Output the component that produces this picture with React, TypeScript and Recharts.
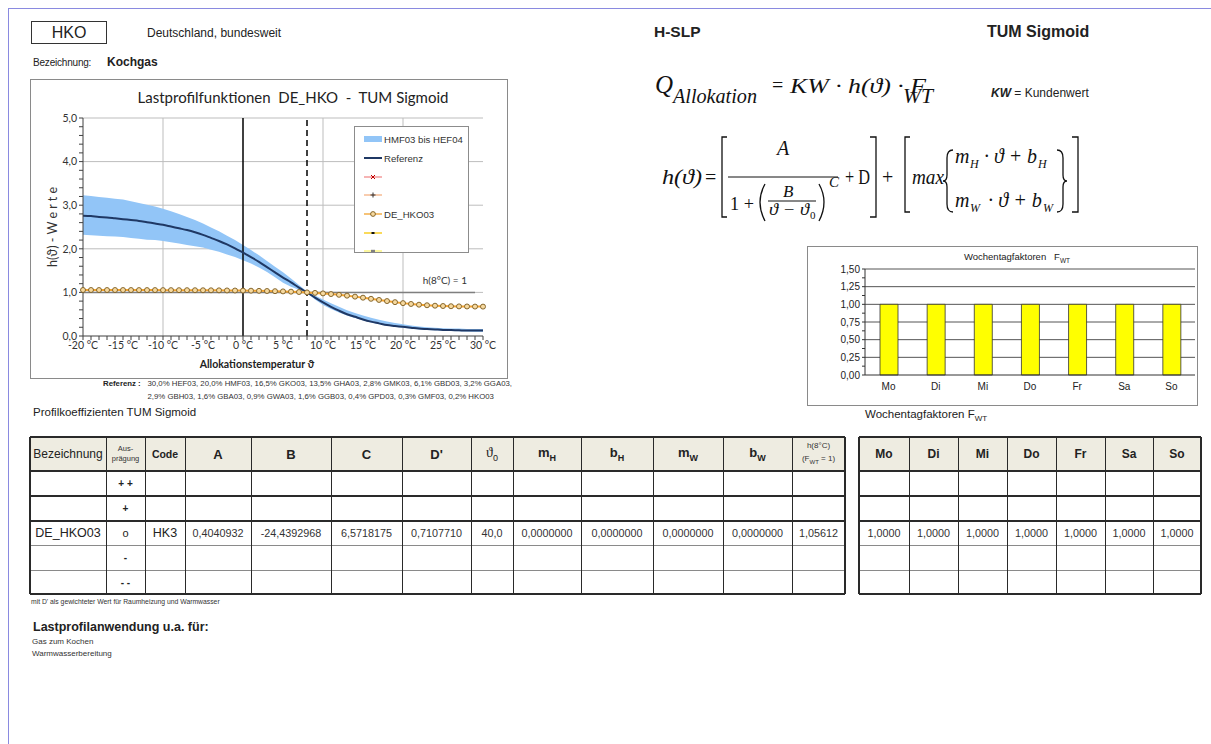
import React from "react";
import {
  ComposedChart,
  Area,
  Line,
  XAxis,
  YAxis,
  CartesianGrid,
  ReferenceLine,
  Legend,
  BarChart,
  Bar,
} from "recharts";

const ARIAL = '"Liberation Sans", Arial, sans-serif';
const CAL = 'Lato, "Liberation Sans", sans-serif';
const SERIF = '"Liberation Serif", "DejaVu Serif", serif';

// Lastprofilfunktionen (°C -> h-value)
const temperatures = [
  -20, -19, -18, -17, -16, -15, -14, -13, -12, -11,
  -10, -9, -8, -7, -6, -5, -4, -3, -2, -1,
  0, 1, 2, 3, 4, 5, 6, 7, 8, 9,
  10, 11, 12, 13, 14, 15, 16, 17, 18, 19,
  20, 21, 22, 23, 24, 25, 26, 27, 28, 29,
  30,
];
const referenz = [
  2.76, 2.75, 2.73, 2.72, 2.7, 2.68, 2.66, 2.64, 2.61, 2.58,
  2.55, 2.51, 2.47, 2.43, 2.38, 2.32, 2.25, 2.18, 2.1, 2.01,
  1.91, 1.81, 1.7, 1.58, 1.46, 1.34, 1.23, 1.11, 1.0, 0.88,
  0.77, 0.67, 0.58, 0.5, 0.44, 0.38, 0.33, 0.29, 0.25, 0.23,
  0.21, 0.19, 0.17, 0.16, 0.15, 0.14, 0.135, 0.13, 0.125, 0.125,
  0.125,
];
const bandHigh = [
  3.23, 3.21, 3.19, 3.17, 3.15, 3.13, 3.09, 3.05, 3.01, 2.97,
  2.92, 2.86, 2.8, 2.73, 2.66, 2.58, 2.49, 2.4, 2.3, 2.2,
  2.09, 1.97, 1.85, 1.72, 1.59, 1.46, 1.32, 1.17, 1.02, 0.93,
  0.84, 0.75, 0.67, 0.59, 0.53, 0.47, 0.42, 0.37, 0.33, 0.3,
  0.27, 0.24, 0.22, 0.2, 0.19, 0.18, 0.17, 0.17, 0.16, 0.16,
  0.16,
];
const bandLow = [
  2.32, 2.31, 2.3, 2.29, 2.28, 2.27, 2.25, 2.23, 2.21, 2.2,
  2.18, 2.15, 2.12, 2.09, 2.06, 2.03, 1.98, 1.93, 1.87, 1.81,
  1.74, 1.66, 1.57, 1.47, 1.35, 1.22, 1.13, 1.06, 0.98, 0.84,
  0.71, 0.62, 0.54, 0.47, 0.41, 0.36, 0.31, 0.27, 0.24, 0.21,
  0.19, 0.17, 0.15, 0.14, 0.13, 0.12, 0.115, 0.11, 0.105, 0.1,
  0.1,
];
const deHko03 = [
  1.055, 1.055, 1.054, 1.054, 1.054, 1.054, 1.054, 1.053, 1.053, 1.053,
  1.052, 1.052, 1.051, 1.051, 1.05, 1.049, 1.048, 1.047, 1.045, 1.043,
  1.041, 1.039, 1.036, 1.032, 1.028, 1.023, 1.017, 1.009, 1.0, 0.989,
  0.977, 0.962, 0.945, 0.925, 0.903, 0.879, 0.853, 0.827, 0.801, 0.776,
  0.754, 0.735, 0.718, 0.705, 0.695, 0.688, 0.683, 0.679, 0.677, 0.675,
  0.674,
];
const mainYTicks = [
  0, 0.2, 0.4, 0.6, 0.8, 1, 1.2, 1.4, 1.6, 1.8, 2, 2.2, 2.4, 2.6, 2.8, 3,
  3.2, 3.4, 3.6, 3.8, 4, 4.2, 4.4, 4.6, 4.8, 5,
];

const legendItems = [
  { label: "HMF03 bis HEF04", kind: "band", color: "#92c5f7", mark: "" },
  { label: "Referenz", kind: "line", color: "#1f3864", mark: "" },
  { label: "", kind: "x", color: "#f28b8b", mark: "#c00000" },
  { label: "", kind: "plus", color: "#f4b183", mark: "#333" },
  { label: "DE_HKO03", kind: "circle", color: "#f2a22e", mark: "#7a5a1e" },
  { label: "", kind: "dash", color: "#f7c600", mark: "#111" },
  { label: "", kind: "square", color: "#fbf36a", mark: "#808080" },
];

// Wochentagfaktoren
const weekdays = ["Mo", "Di", "Mi", "Do", "Fr", "Sa", "So"];
const weekdayFactors = [1, 1, 1, 1, 1, 1, 1];
const barYTicks = [0, 0.125, 0.25, 0.375, 0.5, 0.625, 0.75, 0.875, 1, 1.125, 1.25, 1.375, 1.5];

// Profilkoeffizienten
const coeffHeaders = ["Bezeichnung", "Aus-|prägung", "Code", "A", "B", "C", "D'", "ϑ|0", "m|H", "b|H", "m|W", "b|W", "h(8°C)"];
const auspraegung = ["+ +", "+", "o", "-", "- -"];
const profileName = "DE_HKO03";
const profileCode = "HK3";
const coefficients = ["0,4040932", "-24,4392968", "6,5718175", "0,7107710", "40,0", "0,0000000", "0,0000000", "0,0000000", "0,0000000", "1,05612"];
const referenzText = [
  "30,0% HEF03, 20,0% HMF03, 16,5% GKO03, 13,5% GHA03, 2,8% GMK03, 6,1% GBD03, 3,2% GGA03,",
  "2,9% GBH03, 1,6% GBA03, 0,9% GWA03, 1,6% GGB03, 0,4% GPD03, 0,3% GMF03, 0,2% HKO03",
];
const anwendungen = ["Gas zum Kochen", "Warmwasserbereitung"];

const leftCols = [30, 106, 145, 185, 251, 331, 402, 471, 513, 581, 653, 723, 792, 845];
const rightCols = [859, 909, 958, 1007, 1056, 1105, 1153, 1201];
const tableRows = [437, 471, 496, 521, 545, 570, 594];

function Txt({ x, y, size, bold, italic, children, center, style }: any) {
  return (
    <div
      style={{
        position: "absolute",
        left: x,
        top: y - size * 0.6,
        fontSize: size,
        lineHeight: `${size * 1.2}px`,
        fontWeight: bold ? 700 : 400,
        fontStyle: italic ? "italic" : "normal",
        whiteSpace: "nowrap",
        transform: center ? "translateX(-50%)" : undefined,
        ...style,
      }}
    >
      {children}
    </div>
  );
}

function LegendIcon({ item }: any) {
  const c = item.mark;
  return (
    <svg width={18} height={10} style={{ display: "block" }}>
      {item.kind === "band" ? (
        <rect x={0} y={2} width={18} height={6} fill={item.color} />
      ) : (
        <line x1={0} y1={5} x2={18} y2={5} stroke={item.color} strokeWidth={item.kind === "line" ? 2 : 1.3} />
      )}
      {item.kind === "x" && (
        <path d="M7,3 L11,7 M11,3 L7,7" stroke={c} strokeWidth={1} />
      )}
      {item.kind === "plus" && <path d="M9,2.5 V7.5 M6.5,5 H11.5" stroke={c} strokeWidth={1} />}
      {item.kind === "circle" && <circle cx={9} cy={5} r={2.4} fill="#f6d9a0" stroke={c} strokeWidth={0.9} />}
      {item.kind === "dash" && <rect x={7.5} y={4} width={3} height={2} fill={c} />}
      {item.kind === "square" && <rect x={7} y={3.8} width={4} height={2.6} fill={c} />}
    </svg>
  );
}

function LegendBox() {
  return (
    <div
      style={{
        width: 115,
        height: 127,
        border: "1px solid #8c8c8c",
        background: "#fff",
        paddingTop: 3,
        boxSizing: "border-box",
      }}
    >
      {legendItems.map((it, i) => (
        <div key={i} style={{ display: "flex", alignItems: "center", height: 18.7, paddingLeft: 9 }}>
          <LegendIcon item={it} />
          <span style={{ fontFamily: ARIAL, fontSize: 9.6, color: "#333", marginLeft: 2 }}>{it.label}</span>
        </div>
      ))}
    </div>
  );
}

function isWhole(v: number) {
  return Math.abs(v - Math.round(v)) < 1e-6;
}

function MainChart() {
  const data = temperatures.map((t, i) => ({
    t,
    band: [bandLow[i], bandHigh[i]],
    ref: referenz[i],
    hko: deHko03[i],
  }));
  const tickStyle = { fontSize: 10.5, fill: "#333", fontFamily: CAL };
  return (
    <div style={{ position: "absolute", left: 30, top: 79, width: 476, height: 298, border: "1px solid #8a8a8a", background: "#fff" }}>
      <ComposedChart width={476} height={298} data={data} margin={{ top: 38, right: 24, bottom: 0, left: 0 }}>
        <CartesianGrid stroke="#bdbdbd" strokeWidth={1} horizontalValues={[1, 2, 3, 4, 5]} verticalValues={[-10, 10, 20]} />
        <XAxis
          type="number"
          dataKey="t"
          domain={[-20, 30]}
          ticks={temperatures}
          interval={0}
          height={42}
          tickSize={4}
          tick={tickStyle}
          tickFormatter={(v: number) => (v % 5 === 0 ? `${v} °C` : "")}
          axisLine={{ stroke: "#404040" }}
          tickLine={{ stroke: "#404040" }}
          label={{
            content: (p: any) => {
              const vb = p.viewBox || { x: 52.3, y: 256, width: 400 };
              return (
                <text x={vb.x + vb.width / 2 - 26} y={vb.y + 32} textAnchor="middle" fontSize={10.5} fontWeight={700} fontFamily={CAL} fill="#222">
                  Allokationstemperatur  ϑ
                </text>
              );
            },
          }}
        />
        <YAxis
          type="number"
          domain={[0, 5]}
          ticks={mainYTicks}
          interval={0}
          width={52}
          tickSize={4}
          tick={tickStyle}
          tickFormatter={(v: number) => (isWhole(v) ? v.toFixed(1).replace(".", ",") : "")}
          axisLine={{ stroke: "#404040" }}
          tickLine={{ stroke: "#404040" }}
          label={{
            content: () => (
              <text x={21} y={147} transform="rotate(-90 21 147)" textAnchor="middle" dominantBaseline="central" fontSize={12.5} fontFamily={CAL} fill="#333">
                h(ϑ) - W e r t e
              </text>
            ),
          }}
        />
        <Area dataKey="band" stroke="none" fill="#92c5f7" fillOpacity={1} isAnimationActive={false} legendType="none" />
        <ReferenceLine x={0} stroke="#000" strokeWidth={1.5} />
        <ReferenceLine x={8} stroke="#000" strokeWidth={1.5} strokeDasharray="6 4" />
        <ReferenceLine
          segment={[{ x: -20, y: 1 }, { x: 29, y: 1 }]}
          stroke="#7f7f7f"
          strokeWidth={1.5}
          label={{
            content: (p: any) => {
              const vb = p.viewBox || { x: 52.3, y: 212.3, width: 392 };
              return (
                <text x={vb.x + vb.width - 8} y={vb.y - 8} textAnchor="end" fontSize={10} fontFamily={CAL} fill="#333">
                  h(8°C) = 1
                </text>
              );
            },
          }}
        />
        <Line dataKey="ref" type="monotone" stroke="#1f3864" strokeWidth={2} dot={false} isAnimationActive={false} />
        <Line
          dataKey="hko"
          type="linear"
          stroke="#f2a22e"
          strokeWidth={2}
          dot={{ r: 2.5, stroke: "#7a5a1e", strokeWidth: 0.9, fill: "#f6d9a0" }}
          isAnimationActive={false}
        />
        <Legend
          layout="vertical"
          align="center"
          verticalAlign="middle"
          content={() => <LegendBox />}
          wrapperStyle={{ left: 323, top: 46, width: 115, height: 127 }}
        />
      </ComposedChart>
      <div style={{ position: "absolute", left: 262, top: 8, transform: "translateX(-50%)", fontSize: 15, fontFamily: CAL, color: "#222", whiteSpace: "pre" }}>
        {"Lastprofilfunktionen  DE_HKO  -  TUM Sigmoid"}
      </div>
    </div>
  );
}

function WeekdayChart() {
  const data = weekdays.map((d, i) => ({ d, v: weekdayFactors[i] }));
  const tickStyle = { fontSize: 10, fill: "#222", fontFamily: ARIAL };
  return (
    <div style={{ position: "absolute", left: 807, top: 246, width: 389, height: 158, border: "1px solid #8a8a8a", background: "#fff" }}>
      <BarChart width={389} height={158} data={data} margin={{ top: 22, right: 2, bottom: 0, left: 0 }}>
        <CartesianGrid vertical={false} stroke="#555" strokeWidth={1} horizontalValues={[0.25, 0.5, 0.75, 1, 1.25, 1.5]} />
        <XAxis dataKey="d" height={30} tickLine={false} tick={tickStyle} axisLine={{ stroke: "#333" }} />
        <YAxis
          type="number"
          domain={[0, 1.5]}
          ticks={barYTicks}
          interval={0}
          width={57}
          tickSize={3}
          tick={tickStyle}
          tickFormatter={(v: number) => (isWhole(v * 4) ? v.toFixed(2).replace(".", ",") : "")}
          axisLine={{ stroke: "#333" }}
          tickLine={{ stroke: "#333" }}
        />
        <Bar dataKey="v" fill="#ffff00" stroke="#333" strokeWidth={0.8} barSize={18} isAnimationActive={false} />
      </BarChart>
      <div style={{ position: "absolute", left: 209, top: 4, transform: "translateX(-50%)", fontSize: 9.5, fontFamily: ARIAL, color: "#222", whiteSpace: "nowrap" }}>
        Wochentagfaktoren&nbsp;&nbsp;&nbsp;F<sub style={{ fontSize: 6.5 }}>WT</sub>
      </div>
    </div>
  );
}

function Grid({ cols, header, rows }: any) {
  const ys = tableRows;
  const cells: any[] = [];
  const all = [header, ...rows];
  all.forEach((row: any[], r: number) =>
    row.forEach((content: any, c: number) => {
      cells.push(
        <div
          key={`${r}-${c}`}
          style={{
            position: "absolute",
            left: cols[c],
            top: ys[r],
            width: cols[c + 1] - cols[c],
            height: ys[r + 1] - ys[r],
            display: "flex",
            alignItems: "center",
            justifyContent: "center",
            textAlign: "center",
            fontFamily: ARIAL,
            color: "#222",
          }}
        >
          {content}
        </div>
      );
    })
  );
  const x0 = cols[0];
  const x1 = cols[cols.length - 1];
  const hLine = (y: number, w: number, color: string, k: string) => (
    <div key={k} style={{ position: "absolute", left: x0, top: y - w / 2, width: x1 - x0, height: w, background: color }} />
  );
  const vLine = (x: number, w: number, k: string) => (
    <div key={k} style={{ position: "absolute", left: x - w / 2, top: ys[0], width: w, height: ys[ys.length - 1] - ys[0], background: "#2a2a2a" }} />
  );
  return (
    <>
      <div style={{ position: "absolute", left: x0, top: ys[0], width: x1 - x0, height: ys[1] - ys[0], background: "#eeece1" }} />
      {cells}
      {hLine(ys[1], 1.5, "#2a2a2a", "h1")}
      {hLine(ys[2], 1.5, "#2a2a2a", "h2")}
      {hLine(ys[3], 1.5, "#2a2a2a", "h3")}
      {hLine(ys[4], 1, "#8a8a8a", "h4")}
      {hLine(ys[5], 1, "#8a8a8a", "h5")}
      {hLine(ys[0], 2, "#2a2a2a", "h0")}
      {hLine(ys[6], 2, "#2a2a2a", "h6")}
      {cols.map((x: number, i: number) => vLine(x, i === 0 || i === cols.length - 1 ? 2 : 1, `v${i}`))}
    </>
  );
}

function headerCell(label: string, i: number) {
  if (i === 0) return <span style={{ fontSize: 12 }}>{label}</span>;
  if (i === 1) {
    const [a, b] = label.split("|");
    return (
      <span style={{ fontSize: 7.5, lineHeight: "10px", color: "#333" }}>
        {a}
        <br />
        {b}
      </span>
    );
  }
  if (i === 2) return <span style={{ fontSize: 10.5, fontWeight: 700 }}>{label}</span>;
  if (i === 12)
    return (
      <span style={{ fontSize: 8, lineHeight: "13px", color: "#333" }}>
        {label}
        <br />
        (F<sub style={{ fontSize: 6 }}>WT</sub> = 1)
      </span>
    );
  if (label.includes("|")) {
    const [base, sub] = label.split("|");
    const greek = base === "ϑ";
    return (
      <span style={{ fontSize: greek ? 14 : 13, fontWeight: greek ? 400 : 700, fontFamily: greek ? SERIF : ARIAL }}>
        {base}
        <sub style={{ fontSize: 9, fontFamily: ARIAL }}>{sub}</sub>
      </span>
    );
  }
  return <span style={{ fontSize: 13, fontWeight: 700 }}>{label}</span>;
}

function CoefficientTable() {
  const header = coeffHeaders.map((h, i) => headerCell(h, i));
  const rows = auspraegung.map((a, r) => {
    const main = r === 2;
    return [
      main ? <span style={{ fontSize: 12.5 }}>{profileName}</span> : "",
      <span style={{ fontSize: main ? 11 : 10, fontWeight: main ? 400 : 700 }}>{a}</span>,
      main ? <span style={{ fontSize: 12.5 }}>{profileCode}</span> : "",
      ...coefficients.map((v) => (main ? <span style={{ fontSize: 10.8, color: "#333" }}>{v}</span> : "")),
    ];
  });
  return <Grid cols={leftCols} header={header} rows={rows} />;
}

function WeekdayTable() {
  const header = weekdays.map((d) => <span style={{ fontSize: 12, fontWeight: 700 }}>{d}</span>);
  const rows = auspraegung.map((_, r) =>
    weekdayFactors.map((f) => (r === 2 ? <span style={{ fontSize: 10.8, color: "#333" }}>{f.toFixed(4).replace(".", ",")}</span> : ""))
  );
  return <Grid cols={rightCols} header={header} rows={rows} />;
}

function Formulas() {
  const it = { fontFamily: SERIF, fontStyle: "italic", fill: "#111" } as any;
  const up = { fontFamily: SERIF, fill: "#111" } as any;
  const br = { stroke: "#111", strokeWidth: 1.3, fill: "none" };
  return (
    <svg width={460} height={170} style={{ position: "absolute", left: 640, top: 60 }}>
      <g transform="translate(-640 -60)">
        <text x={655} y={93} fontSize={25} {...it}>Q</text>
        <text x={673} y={103} fontSize={21} textLength={84} lengthAdjust="spacingAndGlyphs" {...it}>Allokation</text>
        <text x={772} y={92} fontSize={20} {...up}>=</text>
        <text x={790} y={93} fontSize={21} textLength={136} lengthAdjust="spacingAndGlyphs" {...it}>KW · h(ϑ) · F</text>
        <text x={903} y={103} fontSize={21} textLength={30} lengthAdjust="spacingAndGlyphs" {...it}>WT</text>

        <text x={662} y={184} fontSize={20} textLength={40} lengthAdjust="spacingAndGlyphs" {...it}>h(ϑ)</text>
        <text x={705} y={184} fontSize={20} {...up}>=</text>
        <path d="M727,137 H722 V217 H727" {...br} />
        <text x={777} y={155} fontSize={20} {...it}>A</text>
        <path d="M728,177 H838" stroke="#111" strokeWidth={1} />
        <text x={730} y={210} fontSize={19} textLength={24} lengthAdjust="spacingAndGlyphs" {...up}>1 +</text>
        <path d="M765,184 Q755,202 765,221" {...br} />
        <text x={783} y={197} fontSize={17} {...it}>B</text>
        <path d="M768,201 H816" stroke="#111" strokeWidth={1} />
        <text x={769} y={215} fontSize={17} textLength={40} lengthAdjust="spacingAndGlyphs" {...it}>ϑ − ϑ</text>
        <text x={810} y={219} fontSize={11} {...up}>0</text>
        <path d="M819,184 Q829,202 819,221" {...br} />
        <text x={829} y={187} fontSize={15} {...it}>C</text>
        <text x={845} y={184} fontSize={20} textLength={25} lengthAdjust="spacingAndGlyphs" {...up}>+ D</text>
        <path d="M870,137 H876 V217 H870" {...br} />
        <text x={882} y={184} fontSize={20} {...up}>+</text>
        <path d="M910,137 H905 V212 H910" {...br} />
        <text x={912} y={184} fontSize={20} textLength={32} lengthAdjust="spacingAndGlyphs" {...it}>max</text>
        <path d="M953,150 Q947,150 947,158 L947,175 Q947,181 943,181 Q947,181 947,187 L947,204 Q947,212 953,212" {...br} />
        <text x={955} y={163} fontSize={20} {...it}>m</text>
        <text x={970} y={168} fontSize={12} {...it}>H</text>
        <text x={984} y={163} fontSize={20} textLength={53} lengthAdjust="spacingAndGlyphs" {...it}>· ϑ + b</text>
        <text x={1038} y={168} fontSize={12} {...it}>H</text>
        <text x={955} y={207} fontSize={20} {...it}>m</text>
        <text x={970} y={212} fontSize={12} {...it}>W</text>
        <text x={988} y={207} fontSize={20} textLength={54} lengthAdjust="spacingAndGlyphs" {...it}>· ϑ + b</text>
        <text x={1043} y={212} fontSize={12} {...it}>W</text>
        <path d="M1057,150 Q1063,150 1063,158 L1063,175 Q1063,181 1067,181 Q1063,181 1063,187 L1063,204 Q1063,212 1057,212" {...br} />
        <path d="M1072,137 H1078 V212 H1072" {...br} />
      </g>
    </svg>
  );
}

export default function App() {
  return (
    <div
      style={{
        position: "absolute",
        left: 0,
        top: 0,
        width: 1211,
        height: 744,
        background: "#fff",
        overflow: "hidden",
        fontFamily: ARIAL,
        color: "#222",
      }}
    >
      <div style={{ position: "absolute", left: 8, top: 8, width: 1203, height: 1, background: "#8a8ae0" }} />
      <div style={{ position: "absolute", left: 8, top: 8, width: 1, height: 736, background: "#8a8ae0" }} />

      <div style={{ position: "absolute", left: 31, top: 21, width: 74, height: 21, border: "1px solid #333", display: "flex", alignItems: "center", justifyContent: "center", fontSize: 16 }}>
        HKO
      </div>
      <Txt x={147} y={33} size={12}>Deutschland, bundesweit</Txt>
      <Txt x={33} y={63} size={10} style={{ letterSpacing: -0.2 }}>Bezeichnung:</Txt>
      <Txt x={107} y={62} size={12} bold>Kochgas</Txt>
      <Txt x={654} y={32} size={15.5} bold>H-SLP</Txt>
      <Txt x={987} y={32} size={16} bold>TUM Sigmoid</Txt>
      <Txt x={991} y={93} size={12}>
        <b><i>KW</i></b> = Kundenwert
      </Txt>

      <Formulas />
      <MainChart />
      <WeekdayChart />

      <Txt x={103} y={384} size={7.8} bold>Referenz :</Txt>
      <Txt x={147.5} y={384} size={7.8} style={{ color: "#333" }}>{referenzText[0]}</Txt>
      <Txt x={147.5} y={397} size={7.8} style={{ color: "#333" }}>{referenzText[1]}</Txt>

      <Txt x={33} y={413} size={11.5}>Profilkoeffizienten TUM Sigmoid</Txt>
      <Txt x={865} y={415} size={11.5}>
        Wochentagfaktoren F<sub style={{ fontSize: 8 }}>WT</sub>
      </Txt>

      <CoefficientTable />
      <WeekdayTable />

      <Txt x={31} y={602} size={6.8} style={{ color: "#333" }}>mit D' als gewichteter Wert für Raumheizung und Warmwasser</Txt>
      <Txt x={33} y={627} size={12.5} bold>Lastprofilanwendung u.a. für:</Txt>
      <Txt x={32} y={642} size={8} style={{ color: "#333" }}>{anwendungen[0]}</Txt>
      <Txt x={32} y={654} size={8} style={{ color: "#333" }}>{anwendungen[1]}</Txt>
    </div>
  );
}
